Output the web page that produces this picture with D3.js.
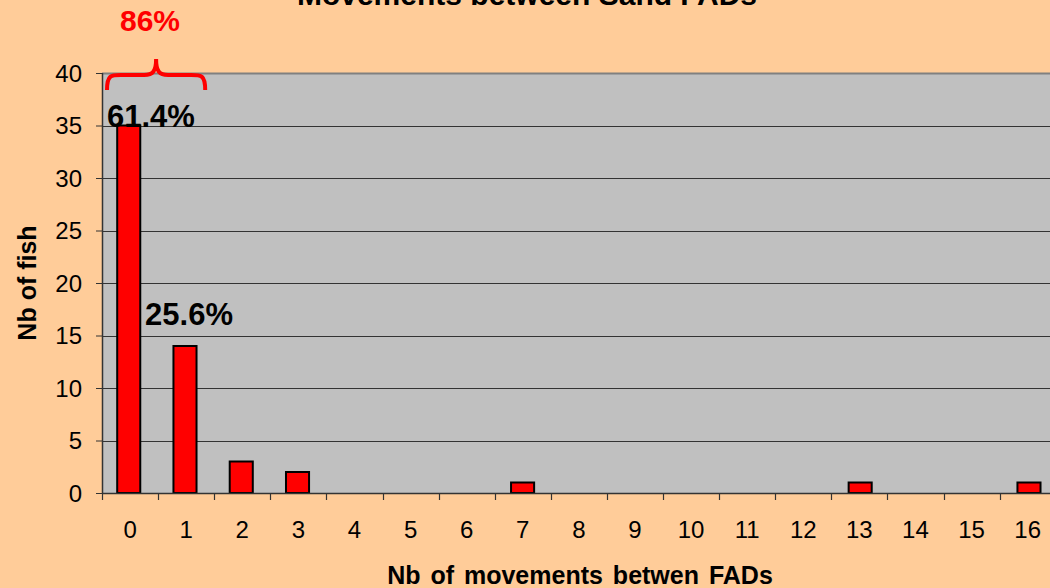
<!DOCTYPE html>
<html><head><meta charset="utf-8">
<script src="https://cdn.jsdelivr.net/npm/d3@7"></script>
<style>body{margin:0;background:#FFCC99;overflow:hidden}svg{display:block}</style>
</head><body>
<script>
const categories = ["0","1","2","3","4","5","6","7","8","9","10","11","12","13","14","15","16"];
const counts = [35,14,3,2,0,0,0,1,0,0,0,0,0,1,0,0,1];
const yTicks = [0,5,10,15,20,25,30,35,40];
const pctLabels = [{cat:"0", text:"61.4%", v:35},{cat:"1", text:"25.6%", v:14}];
const groupLabel = "86%";
const title = "Movements between Sand FADs";

const W=1050,H=588;
const FONT="Liberation Sans, Arial, sans-serif";
const svg=d3.select("body").append("svg").attr("width",W).attr("height",H);
svg.append("rect").attr("width",W).attr("height",H).attr("fill","#FFCC99");

const x=d3.scaleBand().domain(categories).range([102,102+17*56.1]).paddingInner(0.59).paddingOuter(0.27);
const xb=d3.scaleBand().domain(categories).range([102,102+17*56.1]);
const y=d3.scaleLinear().domain([0,40]).range([493,73]);

// plot area
svg.append("rect").attr("x",102).attr("y",73).attr("width",W-102).attr("height",420).attr("fill","#C0C0C0");
svg.append("line").attr("x1",102).attr("x2",W).attr("y1",73.5).attr("y2",73.5).attr("stroke","#808080").attr("stroke-width",2);
// gridlines
svg.append("g").selectAll("line").data(yTicks.filter(d=>d>0&&d<40)).join("line")
  .attr("x1",102).attr("x2",W).attr("y1",d=>Math.round(y(d))+0.5).attr("y2",d=>Math.round(y(d))+0.5)
  .attr("stroke","#333").attr("stroke-width",1.2);

// bars
const barData = counts.map((v,i)=>({c:categories[i],v})).filter(d=>d.v>0);
svg.append("g").selectAll("rect").data(barData).join("rect")
  .attr("x",d=>x(d.c)).attr("width",x.bandwidth())
  .attr("y",d=>y(d.v)).attr("height",d=>y(0)-y(d.v))
  .attr("fill","#FF0000").attr("stroke","#000").attr("stroke-width",2);

// y axis
const ya=svg.append("g").attr("transform","translate(102,0)")
  .call(d3.axisLeft(y).tickValues(yTicks).tickSize(6).tickPadding(14));
ya.select(".domain").attr("stroke","#333").attr("stroke-width",1.5).attr("d","M0.5,73V493");
ya.selectAll("line").attr("stroke","#333");
ya.selectAll("text").attr("font-family",FONT).attr("font-size",24).attr("fill","#000").attr("dy","0.35em");

// x axis
const xa=svg.append("g").attr("transform","translate(0,493)")
  .call(d3.axisBottom(xb).tickSize(0).tickPadding(0));
xa.select(".domain").remove();
xa.selectAll("text").attr("font-family",FONT).attr("font-size",24).attr("fill","#000").attr("y",45).attr("dy",0);
svg.append("line").attr("x1",102).attr("x2",W).attr("y1",493.5).attr("y2",493.5).attr("stroke","#333").attr("stroke-width",1.5);
svg.append("g").selectAll("line").data(categories).join("line")
  .attr("x1",d=>Math.round(xb(d))+0.5).attr("x2",d=>Math.round(xb(d))+0.5).attr("y1",493).attr("y2",500)
  .attr("stroke","#333").attr("stroke-width",1.2);

// axis titles
svg.append("text").attr("x",580).attr("y",584).attr("text-anchor","middle")
  .attr("font-family",FONT).attr("font-weight","bold").attr("font-size",25).attr("word-spacing",3)
  .text("Nb of movements betwen FADs");
svg.append("text").attr("transform","translate(36,283) rotate(-90)").attr("text-anchor","middle")
  .attr("font-family",FONT).attr("font-weight","bold").attr("font-size",25)
  .text("Nb of fish");

// title (clipped at top)
svg.append("text").attr("x",527).attr("y",5).attr("text-anchor","middle")
  .attr("font-family",FONT).attr("font-weight","bold").attr("font-size",30)
  .text(title);

// percentage labels
svg.append("g").selectAll("text").data(pctLabels).join("text")
  .attr("x",d=>xb(d.cat)+(d.cat==="0"?5:-13)).attr("y",d=>y(d.v)+(d.cat==="0"?1:-21))
  .attr("font-family",FONT).attr("font-weight","bold").attr("font-size",31)
  .attr("fill","#000").text(d=>d.text);

// brace
const bx0=xb("0")+5, bx1=xb("1")+xb.bandwidth()-9, bm=(bx0+bx1)/2;
const by=75, bEnd=90, bTop=59;
svg.append("path")
  .attr("d",`M${bx0},${bEnd} C${bx0},${by} ${bx0+4},${by} ${bx0+14},${by} L${bm-12},${by} C${bm-3},${by} ${bm},${by-4} ${bm},${bTop} C${bm},${by-4} ${bm+3},${by} ${bm+12},${by} L${bx1-14},${by} C${bx1-4},${by} ${bx1},${by} ${bx1},${bEnd}`)
  .attr("fill","none").attr("stroke","#FF0000").attr("stroke-width",4);
svg.append("text").attr("x",150).attr("y",31).attr("text-anchor","middle")
  .attr("font-family",FONT).attr("font-weight","bold").attr("font-size",30)
  .attr("fill","#FF0000").text(groupLabel);
</script>
</body></html>
